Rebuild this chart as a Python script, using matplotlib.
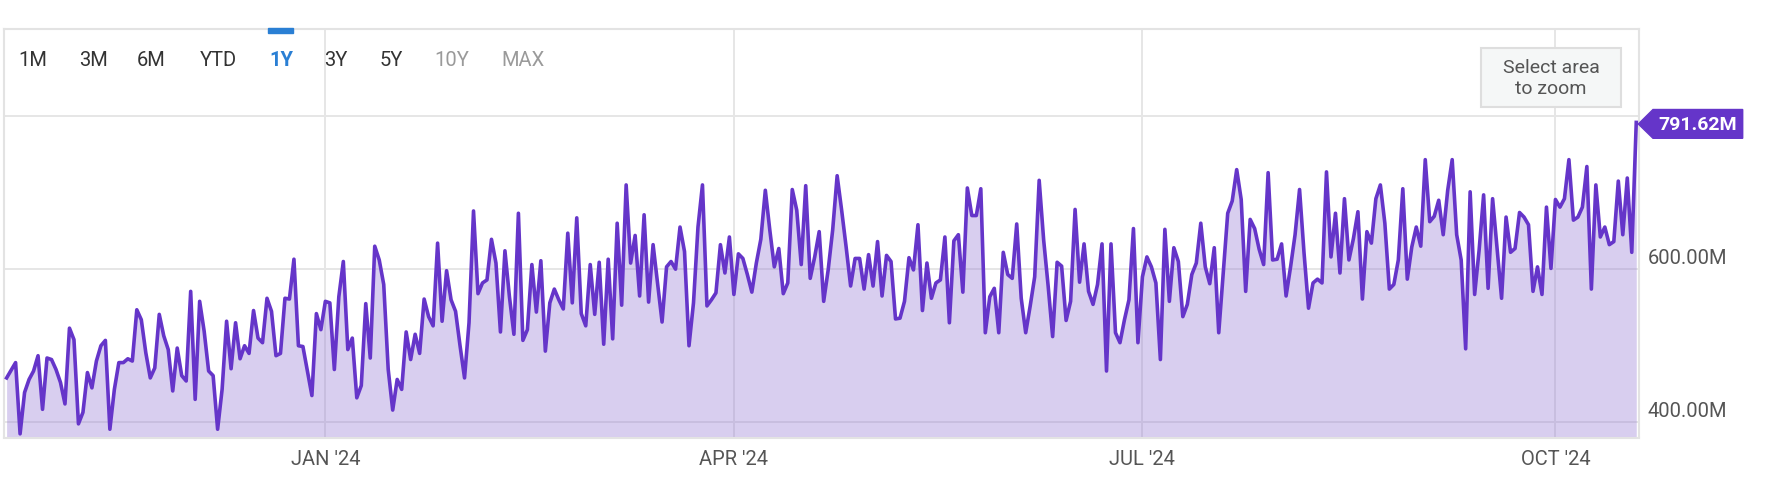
import pandas as pd
import matplotlib
matplotlib.use("Agg")
import matplotlib.pyplot as plt
import matplotlib.transforms as mtransforms
from matplotlib.patches import Rectangle, Polygon

plt.rcParams["font.family"] = ["Roboto", "DejaVu Sans"]

# ------------------------------------------------------------------
# data: one value per day (millions)
# ------------------------------------------------------------------
start_date = "2023-10-22"

late_2023 = [
    458, 468, 478, 385, 439, 456, 467, 487, 417, 484,
    482, 469, 452, 424, 523, 508, 398, 413, 465, 445,
    480, 500, 507, 391, 443, 478, 478, 483, 480, 547,
    534, 491, 458, 471, 541, 513, 495, 441, 497, 461,
    454, 571, 430, 558, 519, 467, 461, 391, 443, 532,
    470, 530, 483, 500, 490, 546, 510, 504, 562, 545,
    487, 490, 562, 561, 613, 500, 499, 467, 435, 542,
    521, 558, 556,
]
q1_2024 = [
    469, 564, 610, 495, 510, 432, 448, 555, 484, 630,
    612, 580, 469, 416, 456, 443, 518, 482, 515, 490,
    561, 538, 526, 634, 532, 598, 560, 545, 500, 458,
    530, 676, 568, 582, 586, 639, 608, 518, 624, 564,
    515, 673, 507, 521, 606, 544, 611, 493, 556, 574,
    560, 548, 647, 556, 667, 542, 526, 606, 541, 609,
    502, 613, 509, 660, 553, 710, 608, 644, 565, 671,
    557, 632,
]
spring_2024 = [
    582, 531, 603, 610, 600, 655, 623, 500, 556, 655,
    710, 552, 560, 569, 632, 595, 642, 567, 620, 614,
    593, 570, 608, 639, 703, 651, 603, 627, 568, 582,
    704, 677, 606, 709, 588, 616, 649, 558, 599, 651,
    722, 677, 629, 578, 614, 614, 574, 619, 578, 636,
    565, 618, 610, 535, 536, 558, 615, 599, 658, 546,
    608, 562, 582, 586, 642, 530, 637, 645, 570, 706,
]
summer_2024 = [
    670, 670, 705, 517, 564, 575, 517, 622, 593, 588,
    659, 562, 517, 552, 590, 716, 638, 578, 512, 609,
    604, 533, 558, 678, 583, 633, 571, 554, 580, 633,
    467, 633, 517, 504, 534, 560, 653, 504, 590, 616,
    603, 582, 482, 652, 558, 628, 610, 538, 554, 593,
    608, 660, 603, 581, 628, 517, 595, 673, 689, 730,
    691, 571, 665, 653, 626, 606, 726, 612, 613,
]
fall_2024 = [
    633, 565, 603, 645, 704, 621, 549, 582, 587, 582,
    727, 616, 673, 595, 692, 612, 640, 675, 561, 649,
    634, 692, 710, 660, 574, 580, 612, 705, 587, 629,
    655, 630, 743, 662, 669, 690, 645, 703, 743, 645,
    612, 496, 701, 567, 625, 697, 575, 692, 627, 562,
    668, 622, 627, 674, 668, 658, 571, 603, 567, 681,
    601, 691, 681, 692, 743, 664, 668, 681, 734, 574,
    710, 642, 655, 632, 636, 715, 645, 719, 622, 791.62,
]

y_ticks = [400, 600, 800]
y_tick_labels = ["400.00M", "600.00M", ""]
x_ticks = ["2024-01-01", "2024-04-01", "2024-07-01", "2024-10-01"]
x_tick_labels = ["JAN '24", "APR '24", "JUL '24", "OCT '24"]
range_buttons = ["1M", "3M", "6M", "YTD", "1Y", "3Y", "5Y", "10Y", "MAX"]
active_button = "1Y"
disabled_buttons = ["10Y", "MAX"]
last_label = "791.62M"

values = late_2023 + q1_2024 + spring_2024 + summer_2024 + fall_2024
dates = pd.date_range(start_date, periods=len(values), freq="D")

# ------------------------------------------------------------------
# layout (pixel based, figure is 1767 x 481)
# ------------------------------------------------------------------
W, H = 1767, 481
LINE = "#6535c9"
BLUE = "#2a7fd4"
GRID = "#e6e6e6"


def fx(px):
    return px / W


def fy(py):
    return 1 - py / H


fig = plt.figure(figsize=(W / 100, H / 100), dpi=100)
ax = fig.add_axes([fx(4), fy(438.5), 1634.5 / W, 408.5 / H])

for y in y_ticks:
    ax.axhline(y, color=GRID, lw=1.4, zorder=0)
for x in x_ticks:
    ax.axvline(pd.Timestamp(x), color=GRID, lw=1.4, zorder=0)

ax.fill_between(dates, values, 300, color="#9377d5", alpha=0.36, lw=0, zorder=1)
ax.plot(dates, values, color=LINE, lw=2.6, solid_joinstyle="round", zorder=3)

ax.set_xlim(dates[0] - pd.Timedelta(hours=14), dates[-1] + pd.Timedelta(hours=12))
ax.set_ylim(380.2, 913.6)

for s in ax.spines.values():
    s.set_color("#e3e3e3")
    s.set_linewidth(1.5)

ax.set_yticks([])
ax.set_xticks([pd.Timestamp(x) for x in x_ticks])
ax.set_xticklabels(x_tick_labels)
ax.tick_params(axis="x", length=0, pad=8.5, labelsize=14.5, labelcolor="#555555")

# y labels sit just above their gridline, outside the right edge
trans = mtransforms.blended_transform_factory(ax.transAxes, ax.transData)
for v, lab in zip(y_ticks, y_tick_labels):
    if lab:
        ax.text(1.0058, v + 15.5, lab, transform=trans, ha="left", va="center",
                fontsize=14.5, color="#555555")

# range selector buttons
button_x = [32.5, 93, 151.3, 218, 281.5, 335.5, 391.5, 451.7, 523.3]
for bx, name in zip(button_x, range_buttons):
    if name == active_button:
        color, weight = BLUE, "bold"
    elif name in disabled_buttons:
        color, weight = "#9a9a9a", "normal"
    else:
        color, weight = "#333333", "normal"
    fig.text(fx(bx), fy(60), name, ha="center", va="center", fontsize=14.5,
             color=color, fontweight=weight)
fig.patches.append(Rectangle((fx(268), fy(34)), 25 / W, 4.7 / H,
                             transform=fig.transFigure, color=BLUE, zorder=5))

# "Select area to zoom" box
fig.patches.append(Rectangle((fx(1480.7), fy(108.3)), 140 / W, 59.3 / H,
                             transform=fig.transFigure, facecolor="#f5f7f7",
                             edgecolor="#dedede", lw=1.5, zorder=5))
fig.text(fx(1551), fy(78.5), "Select area\nto zoom", ha="center", va="center",
         fontsize=14, color="#555555", linespacing=1.2, zorder=6)

# last value flag
flag = [(1638.3, 125), (1653, 110.5), (1742.7, 110.5), (1742.7, 139.3), (1653, 139.3)]
fig.patches.append(Polygon([(fx(a), fy(b)) for a, b in flag], closed=True,
                           transform=fig.transFigure, color=LINE, zorder=5))
fig.text(fx(1697.5), fy(125), last_label, ha="center", va="center", fontsize=14,
         color="white", fontweight="bold", zorder=6)

fig.savefig("out.png", dpi=100)
